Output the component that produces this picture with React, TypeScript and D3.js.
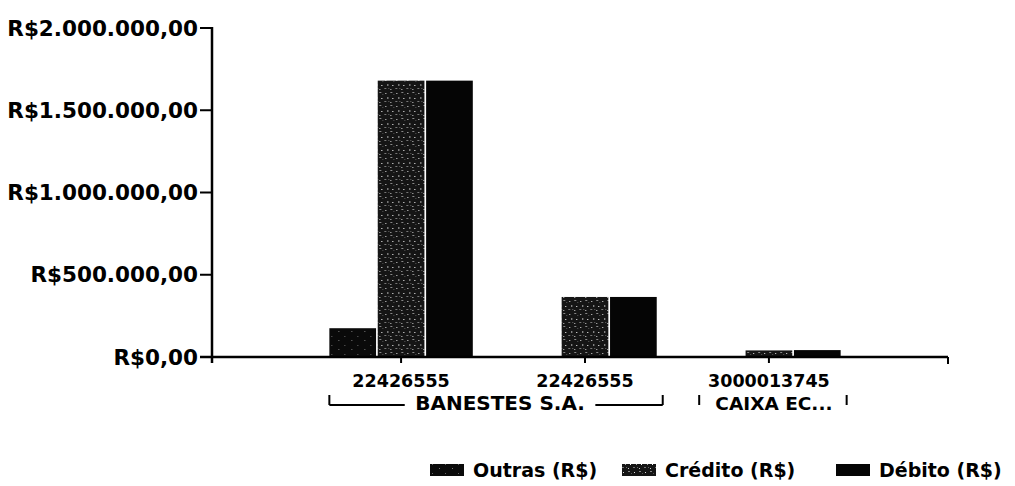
import React from "react";
import * as d3 from "d3";

const accounts = ["22426555", "22426555", "3000013745"];
const banks = ["BANESTES S.A.", "BANESTES S.A.", "CAIXA EC..."];
const seriesNames = ["Outras (R$)", "Crédito (R$)", "Débito (R$)"];
const outras = [175000, 0, 0];
const credito = [1680000, 365000, 40000];
const debito = [1680000, 365000, 42000];
const yTicks = [0, 500000, 1000000, 1500000, 2000000];

const W = 1015;
const H = 486;
const FONT = "'DejaVu Sans', sans-serif";

const locale = d3.formatLocale({
  decimal: ",",
  thousands: ".",
  grouping: [3],
  currency: ["R$", ""],
});
const fmt = locale.format("$,.2f");

export default function App() {
  const left = 212;
  const right = 948;
  const top = 28;
  const bottom = 357;

  const idx = accounts.map((_, i) => String(i));
  const x = d3.scaleBand<string>().domain(idx).range([219, 951]).paddingInner(0.22).paddingOuter(0.6);
  const xs = d3.scaleBand<string>().domain(["0", "1", "2"]).range([0, x.bandwidth()]).paddingInner(0.035);
  const y = d3.scaleLinear().domain([0, 2000000]).range([bottom, top]);

  const series = [outras, credito, debito];
  const fills = ["url(#patOutras)", "url(#patCredito)", "#050505"];

  const groups: { name: string; start: number; end: number }[] = [];
  banks.forEach((b, i) => {
    const g = groups[groups.length - 1];
    if (g && g.name === b) g.end = i;
    else groups.push({ name: b, start: i, end: i });
  });

  const bracketY = 405;
  const legendX = [430, 622, 836];

  return (
    <svg width={W} height={H} style={{ position: "absolute", left: 0, top: 0, background: "#fff" }}
      fontFamily={FONT} fontWeight="bold">
      <defs>
        <pattern id="patCredito" width="11" height="13" patternUnits="userSpaceOnUse">
          <rect width="11" height="13" fill="#151515" />
          <rect x="1" y="2" width="1" height="1" fill="#ddd" />
          <rect x="6" y="1" width="2" height="1" fill="#888" />
          <rect x="3" y="6" width="1" height="2" fill="#aaa" />
          <rect x="8" y="7" width="1" height="1" fill="#fff" />
          <rect x="0" y="10" width="2" height="1" fill="#777" />
          <rect x="6" y="11" width="1" height="1" fill="#ccc" />
          <rect x="9" y="3" width="1" height="1" fill="#555" />
          <rect x="4" y="10" width="1" height="1" fill="#666" />
        </pattern>
        <pattern id="patOutras" width="13" height="9" patternUnits="userSpaceOnUse">
          <rect width="13" height="9" fill="#0a0a0a" />
          <rect x="2" y="3" width="1" height="1" fill="#666" />
          <rect x="9" y="7" width="1" height="1" fill="#777" />
        </pattern>
      </defs>

      {idx.map((c, i) => (
        <g key={c} transform={`translate(${x(c)},0)`}>
          {series.map((s, k) =>
            s[i] > 0 ? (
              <rect key={k} x={xs(String(k))} y={y(s[i])} width={xs.bandwidth()} height={bottom - y(s[i])} fill={fills[k]} />
            ) : null
          )}
        </g>
      ))}

      <line x1={left} x2={left} y1={top - 1} y2={bottom + 6} stroke="#000" strokeWidth={2.5} />
      {yTicks.map((t) => (
        <g key={t}>
          <line x1={left - 12} x2={left} y1={y(t)} y2={y(t)} stroke="#000" strokeWidth={2} />
          <text x={left - 14} y={y(t)} textAnchor="end" dominantBaseline="central" fontSize={21.5} fill="#000">
            {fmt(t)}
          </text>
        </g>
      ))}

      <line x1={left - 12} x2={right} y1={bottom} y2={bottom} stroke="#000" strokeWidth={2.5} />
      <line x1={right} x2={right} y1={bottom} y2={bottom + 7} stroke="#000" strokeWidth={2} />
      {idx.map((c, i) => {
        const cx = (x(c) as number) + x.bandwidth() / 2;
        return (
          <g key={c}>
            <line x1={cx} x2={cx} y1={bottom} y2={bottom + 6} stroke="#000" strokeWidth={2} />
            <text x={cx} y={381} textAnchor="middle" dominantBaseline="central" fontSize={17.5} fill="#000">
              {accounts[i]}
            </text>
          </g>
        );
      })}

      {groups.map((g) => {
        const single = g.start === g.end;
        const x0 = (x(String(g.start)) as number) + (single ? 2 : 0);
        const x1 = (x(String(g.end)) as number) + x.bandwidth() + 6;
        const mid = (x0 + x1) / 2 + (single ? 1 : 4);
        const fs = single ? 18.5 : 20;
        const textW = g.name.length * (single ? 12 : 14.2);
        return (
          <g key={g.name}>
            <line x1={x0} x2={x0} y1={bracketY - 10} y2={bracketY} stroke="#000" strokeWidth={2} />
            <line x1={x1} x2={x1} y1={bracketY - 10} y2={bracketY} stroke="#000" strokeWidth={2} />
            {!single && (
              <>
                <line x1={x0} x2={mid - textW / 2 - 3} y1={bracketY} y2={bracketY} stroke="#000" strokeWidth={2} />
                <line x1={mid + textW / 2 + 3} x2={x1} y1={bracketY} y2={bracketY} stroke="#000" strokeWidth={2} />
              </>
            )}
            <text x={mid} y={bracketY - 2} textAnchor="middle" dominantBaseline="central" fontSize={fs} fill="#000">
              {g.name}
            </text>
          </g>
        );
      })}

      {seriesNames.map((n, k) => (
        <g key={n} transform={`translate(${legendX[k]},470)`}>
          <rect x={0} y={-6} width={34} height={12} fill={fills[k]} />
          <text x={43} y={0} dominantBaseline="central" fontSize={19} fill="#000">
            {n}
          </text>
        </g>
      ))}
    </svg>
  );
}
